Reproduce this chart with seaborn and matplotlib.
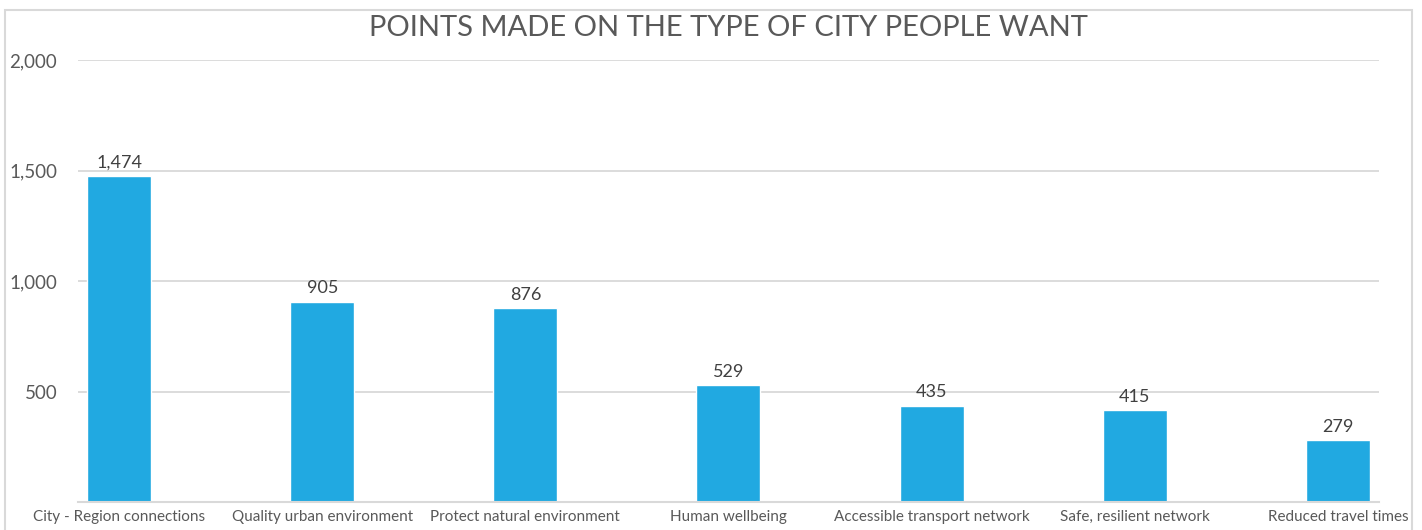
import matplotlib
matplotlib.use("Agg")
import matplotlib.pyplot as plt
import seaborn as sns
import pandas as pd
from matplotlib.patches import Rectangle

categories = ["City - Region connections", "Quality urban environment", "Protect natural environment",
              "Human wellbeing", "Accessible transport network", "Safe, resilient network",
              "Reduced travel times"]
values = [1474, 905, 876, 529, 435, 415, 279]
yticks = [500, 1000, 1500, 2000]
title = "POINTS MADE ON THE TYPE OF CITY PEOPLE WANT"

sns.set_theme(style="white")
plt.rcParams['font.family'] = ['Lato', 'DejaVu Sans']

df = pd.DataFrame({"cat": categories, "val": values})
fig = plt.figure(figsize=(14.22, 5.30), dpi=100)
ax = fig.add_axes([0.0549, 0.0528, 0.9148, 0.834])

sns.barplot(data=df, x="cat", y="val", color="#21A9E1", saturation=1, width=0.315, ax=ax)

ax.set_xlim(-0.202, 6.202)
ax.set_ylim(0, 2000)
ax.set_yticks(yticks)
ax.set_yticklabels([f"{v:,}" for v in yticks], fontsize=13.5, color="#595959")
ax.tick_params(axis='y', length=0, pad=15)
ax.tick_params(axis='x', length=0, pad=6)
for lbl in ax.get_xticklabels():
    lbl.set_fontsize(11)
    lbl.set_color("#595959")
ax.set_xlabel("")
ax.set_ylabel("")
ax.yaxis.grid(True, color="#D9D9D9", linewidth=1.3)
ax.set_axisbelow(True)
for s in ["left", "right", "top"]:
    ax.spines[s].set_visible(False)
ax.spines["bottom"].set_color("#D9D9D9")
ax.spines["bottom"].set_linewidth(1.5)

for c in ax.containers:
    ax.bar_label(c, labels=[f"{v:,.0f}" for v in c.datavalues], padding=4, fontsize=13,
                 color="#404040")

fig.text(0.5125, 0.947, title, ha="center", va="center", fontsize=21, color="#595959")

fig.patches.append(Rectangle((5/1422, -0.1), (1412-5)/1422, 1.1 - 10/530, transform=fig.transFigure,
                             fill=False, edgecolor="#D9D9D9", linewidth=1.5, clip_on=False))

fig.savefig("out.png", dpi=100)
